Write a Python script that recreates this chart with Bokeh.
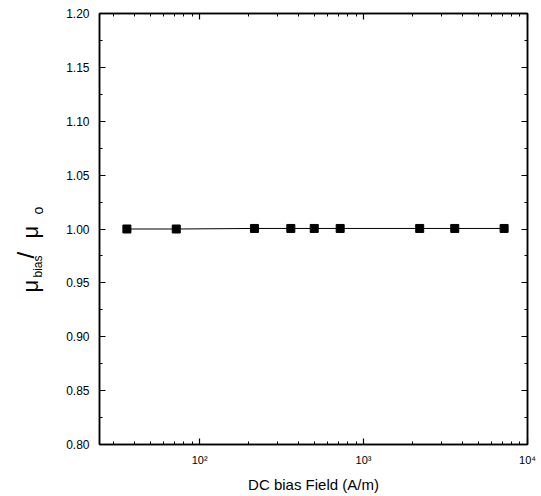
import math
from bokeh.plotting import figure
from bokeh.layouts import row
from bokeh.models import (Range1d, FixedTicker, NumeralTickFormatter,
                          LogAxis, LinearAxis, ColumnDataSource)
from bokeh.embed import file_html
from bokeh.resources import INLINE

# Data
field = [36, 72, 216, 360, 500, 720, 2200, 3600, 7200]
mu_ratio = [1.000, 1.000, 1.0005, 1.0005, 1.0005, 1.0005, 1.0005, 1.0005, 1.0005]
x_major = [100, 1000, 10000]
x_minor = [30, 40, 50, 60, 70, 80, 90,
           200, 300, 400, 500, 600, 700, 800, 900,
           2000, 3000, 4000, 5000, 6000, 7000, 8000, 9000]
x_labels = {100: "10²", 1000: "10³", 10000: "10⁴"}
y_major = [0.80, 0.85, 0.90, 0.95, 1.00, 1.05, 1.10, 1.15, 1.20]
y_minor = [0.825, 0.875, 0.925, 0.975, 1.025, 1.075, 1.125, 1.175]
x_title = "DC bias Field (A/m)"
y_title_parts = ["μ", "bias", "/", "μ", "o"]
XMIN, XMAX = 24.5, 10000
YMIN, YMAX = 0.8, 1.2

FONT = "Liberation Sans"

W, H = 540, 495
LW = 56                      # width of the side panel holding the y title
BL, BT, BR, BB = 99, 13, 13, 51

p = figure(width=W - LW, height=H, x_axis_type="log",
           x_range=Range1d(XMIN, XMAX), y_range=Range1d(YMIN, YMAX),
           output_backend="svg", toolbar_location=None,
           min_border_left=BL - LW, min_border_right=BR, min_border_top=BT, min_border_bottom=BB)
p.grid.visible = False
p.outline_line_color = "black"
p.outline_line_width = 1.5
p.background_fill_color = "white"
p.border_fill_color = "white"

src = ColumnDataSource(dict(x=field, y=mu_ratio))
p.line("x", "y", source=src, line_color="black", line_width=1)
p.scatter("x", "y", source=src, marker="square", size=8, fill_color="black", line_color="black")

xt = FixedTicker(ticks=x_major, minor_ticks=x_minor)
yt = FixedTicker(ticks=y_major, minor_ticks=y_minor)

def style(ax, show_labels):
    ax.axis_line_width = 1.5
    ax.axis_line_color = "black"
    ax.major_tick_in = 6
    ax.major_tick_out = 0
    ax.minor_tick_in = 3
    ax.minor_tick_out = 0
    ax.major_tick_line_width = 1.2
    ax.minor_tick_line_width = 1
    ax.major_tick_line_color = "black"
    ax.minor_tick_line_color = "black"
    ax.major_label_text_color = "black"
    if not show_labels:
        ax.major_label_text_font_size = "1px"
        ax.major_label_text_alpha = 0
        ax.major_label_standoff = 0

xa = p.xaxis[0]
xa.ticker = xt
xa.major_label_overrides = x_labels
xa.major_label_text_font = FONT
xa.major_label_text_font_size = "11px"
xa.major_label_standoff = 9
xa.axis_label = x_title
xa.axis_label_text_font = FONT
xa.axis_label_text_font_style = "normal"
xa.axis_label_text_font_size = "15px"
xa.axis_label_text_color = "black"
xa.axis_label_standoff = 7
style(xa, True)

ya = p.yaxis[0]
ya.ticker = yt
ya.formatter = NumeralTickFormatter(format="0.00")
ya.major_label_text_font = FONT
ya.major_label_text_font_size = "12px"
ya.major_label_standoff = 10
style(ya, True)

top = LogAxis(ticker=xt)
style(top, False)
p.add_layout(top, "above")
right = LinearAxis(ticker=yt)
style(right, False)
p.add_layout(right, "right")

# Side panel with the rotated y title (mu_bias / mu_o).
# Its frame is aligned with the main frame (page y BT .. H-BB), so map the range to page pixels.
t = figure(width=LW, height=H, x_range=Range1d(0, LW), y_range=Range1d(BB, H - BT),
           output_backend="svg", toolbar_location=None,
           min_border=0, min_border_left=0, min_border_right=0, min_border_top=0, min_border_bottom=0)
t.axis.visible = False
t.grid.visible = False
t.outline_line_color = None
t.background_fill_color = "white"
t.border_fill_color = "white"

sizes = ["22px", "12px", "24px", "22px", "14px"]
base_x = [30, 37, 25, 30, 37]
start_y_from_top = [292, 277, 258, 238, 214]
tsrc = ColumnDataSource(dict(x=base_x, y=[H - v for v in start_y_from_top],
                             text=y_title_parts, size=sizes))
t.text(x="x", y="y", text="text", source=tsrc, angle=math.pi / 2,
       text_font_size="size", text_align="left", text_baseline="alphabetic",
       text_color="black", text_font={"value": FONT})

layout = row(t, p, spacing=0)
open("out.html", "w").write(file_html(layout, INLINE))
